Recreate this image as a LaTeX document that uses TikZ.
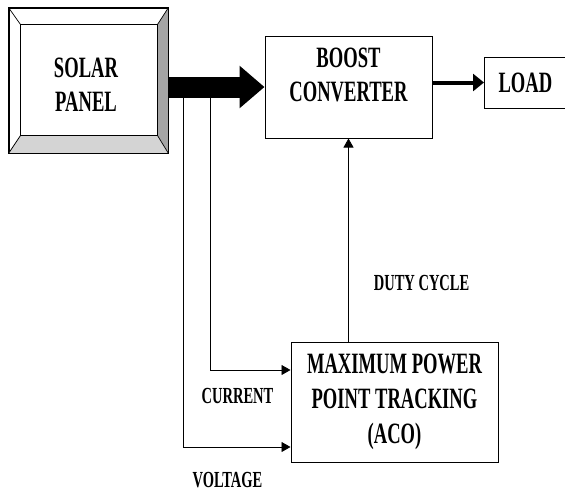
\documentclass[tikz,border=0pt]{standalone}
\usepackage{fontspec}
\setmainfont{Liberation Serif}[FakeStretch=0.63]
\usetikzlibrary{positioning}
\usetikzlibrary{arrows.meta}
\usetikzlibrary{calc}
\definecolor{panelSombra}{RGB}{165,165,165}
\definecolor{panelClaro}{RGB}{212,212,212}
\tikzset{
  block/.style={
    rectangle, draw=black, line width=1pt, fill=white,
    align=center, font=\bfseries\fontsize{29.5}{35}\selectfont, inner sep=0pt
  },
  blocktext/.style={
    align=center, font=\bfseries\fontsize{29.5}{34}\selectfont, inner sep=0pt
  },
  signal/.style={font=\bfseries\fontsize{23}{26}\selectfont, inner sep=0pt},
  powerarrow/.style={-{Triangle[length=25pt, width=41pt]}, line width=21pt, draw=black},
  loadarrow/.style={-{Triangle[length=11pt, width=17pt]}, line width=4pt, draw=black},
  sensearrow/.style={-{Triangle[length=9pt, width=10pt]}, line width=0.8pt, draw=black}
}
\begin{document}
\begin{tikzpicture}[x=1pt, y=-1pt]
  \clip (0,0) rectangle (565,491);
  \fill[white] (0,0) rectangle (565,491);
  % solar panel with bevelled frame
  \node[block, minimum width=159pt, minimum height=145pt] (solar) at (88.5,80.5) {};
  \coordinate (pNW) at ($(solar.north west)+(12,17)$);
  \coordinate (pNE) at ($(solar.north east)+(-11,17)$);
  \coordinate (pSE) at ($(solar.south east)+(-11,-18)$);
  \coordinate (pSW) at ($(solar.south west)+(12,-18)$);
  \fill[panelSombra] (solar.north east) -- (solar.south east) -- (pSE) -- (pNE) -- cycle;
  \fill[panelClaro] (solar.south west) -- (solar.south east) -- (pSE) -- (pSW) -- cycle;
  \draw[line width=0.7pt] (solar.north west) -- (pNW) (solar.north east) -- (pNE)
    (solar.south east) -- (pSE) (solar.south west) -- (pSW);
  \draw[line width=1pt] (pNW) rectangle (pSE);
  \draw[line width=1pt] (solar.north west) rectangle (solar.south east);
  \node[blocktext, xshift=-2.5pt, yshift=-4.5pt] (solarlabel) at (solar) {SOLAR\\PANEL};
  % converter, load and tracker
  \node[block, minimum width=167pt, minimum height=102pt] (boost) at (348.5,87) {};
  \node[blocktext, yshift=12.5pt] (boostlabel) at (boost) {BOOST\\CONVERTER};
  \node[block, anchor=west, text width=72pt, align=left, inner xsep=14pt,
    minimum height=51pt] (load) at (484,82.5) {LOAD};
  \node[block, minimum width=207pt, minimum height=120pt] (mppt) at (394.5,402)
    {MAXIMUM POWER\\POINT TRACKING\\(ACO)};
  % power path
  \draw[powerarrow] (solar.east |- boost.west) -- (boost.west);
  \draw[loadarrow] (boost.east |- load.west) -- (load.west);
  % sensing and control
  \coordinate (vtap) at ($(solar.east |- boost.west)+(15,10.5)$);
  \coordinate (itap) at ($(solar.east |- boost.west)+(42,10.5)$);
  \draw[sensearrow] (vtap) |- ($(mppt.west)+(0,45)$);
  \draw[sensearrow] (itap) |- ($(mppt.west)+(0,-32)$);
  \draw[sensearrow] (boost.south |- mppt.north) --
    node[signal, pos=0.29, anchor=west, xshift=25pt] (dutylabel) {DUTY CYCLE} (boost.south);
  \node[signal] (currentlabel) at (237.5,395.5) {CURRENT};
  \node[signal] (voltagelabel) at (227.5,480) {VOLTAGE};
\end{tikzpicture}
\end{document}
